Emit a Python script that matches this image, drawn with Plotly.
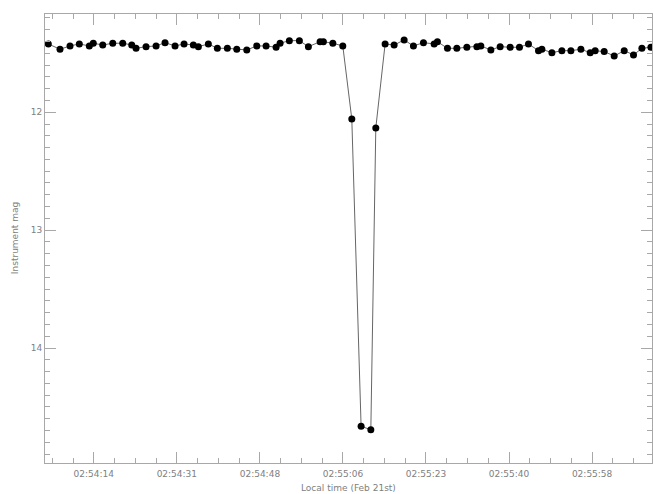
import plotly.graph_objects as go

# Time in seconds after 02:54:00 local time (Feb 21st)
seconds = [4.51, 6.95, 9.04, 10.98, 13.07, 13.90, 15.87, 17.96, 20.04, 21.92,
           22.82, 24.91, 27.00, 28.87, 30.96, 32.84, 34.78, 35.83, 37.91, 39.79,
           41.88, 43.84, 45.93, 48.02, 49.96, 52.05, 52.88, 54.82, 56.91, 58.79,
           61.23, 61.92, 63.89, 65.97, 67.85, 69.79, 71.82, 72.86, 74.80, 76.68,
           78.77, 80.71, 82.80, 85.03, 85.72, 87.81, 89.77, 91.86, 93.95, 94.78,
           96.87, 98.81, 100.90, 102.84, 104.72, 106.81, 107.52, 109.61, 111.69, 113.57,
           115.66, 117.60, 118.64, 120.52, 122.61, 124.70, 126.64, 128.39, 130.27]
mags = [11.421, 11.466, 11.438, 11.421, 11.438, 11.415, 11.430, 11.415, 11.415, 11.430,
        11.458, 11.444, 11.438, 11.410, 11.438, 11.421, 11.430, 11.444, 11.421, 11.458,
        11.458, 11.466, 11.472, 11.438, 11.438, 11.449, 11.415, 11.393, 11.393, 11.444,
        11.402, 11.402, 11.415, 11.438, 12.057, 14.664, 14.692, 12.133, 11.421, 11.430,
        11.387, 11.438, 11.410, 11.421, 11.402, 11.458, 11.458, 11.449, 11.444, 11.438,
        11.472, 11.444, 11.449, 11.449, 11.421, 11.478, 11.466, 11.495, 11.478, 11.478,
        11.466, 11.495, 11.478, 11.486, 11.523, 11.478, 11.514, 11.458, 11.449]

x_tick_vals = [14.0, 31.333, 48.667, 66.0, 83.333, 100.667, 118.0]
x_tick_text = ["02:54:14", "02:54:31", "02:54:48", "02:55:06", "02:55:23", "02:55:40", "02:55:58"]
y_tick_vals = [12, 13, 14]
y_tick_text = ["12", "13", "14"]

x_range = [3.82, 130.5]
y_range = [14.975, 11.167]

text_color = "#808080"
axis_color = "#a8a8a8"
font = dict(family="DejaVu Sans", size=9, color=text_color)

fig = go.Figure()
fig.add_trace(go.Scatter(
    x=seconds, y=mags, mode="lines+markers",
    line=dict(color="#666666", width=1),
    marker=dict(color="black", size=7, symbol="circle"),
    showlegend=False,
))

x_step = (x_tick_vals[1] - x_tick_vals[0]) / 4
common = dict(showgrid=False, zeroline=False, showline=True, linecolor=axis_color,
              linewidth=1, mirror="allticks", ticks="inside", tickcolor=axis_color,
              automargin=False, tickfont=font)

fig.update_layout(
    width=653, height=494,
    margin=dict(l=45, r=1, t=14, b=31),
    paper_bgcolor="white", plot_bgcolor="white",
    xaxis=dict(range=x_range, tickmode="array", tickvals=x_tick_vals, ticktext=x_tick_text,
               ticklen=11, ticklabelstandoff=2,
               minor=dict(tick0=x_tick_vals[0], dtick=x_step, ticks="inside", ticklen=5,
                          tickcolor=axis_color, showgrid=False),
               **common),
    yaxis=dict(range=y_range, tickmode="array", tickvals=y_tick_vals, ticktext=y_tick_text,
               ticklen=11,
               minor=dict(tick0=11, dtick=0.1, ticks="inside", ticklen=5,
                          tickcolor=axis_color, showgrid=False),
               **common),
    annotations=[
        dict(text="Local time (Feb 21st)", xref="paper", yref="paper", x=0.5, y=-0.056,
             xanchor="center", yanchor="middle", showarrow=False, font=font),
        dict(text="Instrument mag", xref="paper", yref="paper", x=-0.05, y=0.5,
             xanchor="center", yanchor="middle", textangle=-90, showarrow=False, font=font),
    ],
)

fig.write_html("out.html", config={"displayModeBar": False},
               post_script="document.body.style.margin='0';document.body.style.overflow='hidden';")
